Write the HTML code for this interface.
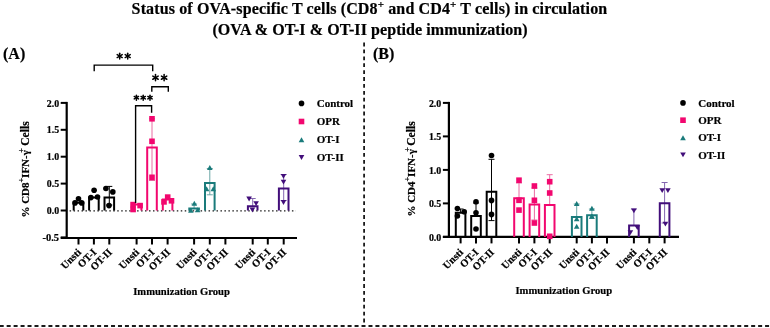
<!DOCTYPE html><html><head><meta charset="utf-8"><style>html,body{margin:0;padding:0;background:#fff;}svg{display:block;will-change:transform;filter:blur(0.3px);}</style></head><body>
<svg width="770" height="328" viewBox="0 0 770 328">
<rect width="770" height="328" fill="#fff"/>
<text x="131.6" y="14" font-family="Liberation Serif" font-weight="bold" stroke="#000" stroke-width="0.2" font-size="16" textLength="475.6" lengthAdjust="spacing">Status of OVA-specific T cells (CD8<tspan dy="-6.5" font-size="11">+</tspan><tspan dy="6.5"> and CD4</tspan><tspan dy="-6.5" font-size="11">+</tspan><tspan dy="6.5"> T cells) in circulation</tspan></text>
<text x="212.4" y="35" font-family="Liberation Serif" font-weight="bold" stroke="#000" stroke-width="0.2" font-size="16" textLength="315.2" lengthAdjust="spacing">(OVA &amp; OT-I &amp; OT-II peptide immunization)</text>
<text x="3" y="59.2" font-family="Liberation Serif" font-weight="bold" stroke="#000" stroke-width="0.2" font-size="16">(A)</text>
<text x="373" y="59.2" font-family="Liberation Serif" font-weight="bold" stroke="#000" stroke-width="0.2" font-size="16">(B)</text>
<line x1="364.1" y1="42.6" x2="364.1" y2="326" stroke="#1a1a1a" stroke-width="1.8" stroke-dasharray="3.8 3.1"/>
<line x1="-0.3" y1="326" x2="770" y2="326" stroke="#1a1a1a" stroke-width="2" stroke-dasharray="4 2.958"/>
<line x1="66.70" y1="101.90" x2="66.70" y2="239.00" stroke="#000" stroke-width="2.2"/>
<line x1="60.70" y1="102.90" x2="66.70" y2="102.90" stroke="#000" stroke-width="2"/>
<text x="59.10" y="106.50" font-family="Liberation Serif" font-weight="bold" stroke="#000" stroke-width="0.2" font-size="10.5" text-anchor="end" textLength="12.4" lengthAdjust="spacingAndGlyphs">2.0</text>
<line x1="60.70" y1="129.80" x2="66.70" y2="129.80" stroke="#000" stroke-width="2"/>
<text x="59.10" y="133.40" font-family="Liberation Serif" font-weight="bold" stroke="#000" stroke-width="0.2" font-size="10.5" text-anchor="end" textLength="12.4" lengthAdjust="spacingAndGlyphs">1.5</text>
<line x1="60.70" y1="156.70" x2="66.70" y2="156.70" stroke="#000" stroke-width="2"/>
<text x="59.10" y="160.30" font-family="Liberation Serif" font-weight="bold" stroke="#000" stroke-width="0.2" font-size="10.5" text-anchor="end" textLength="12.4" lengthAdjust="spacingAndGlyphs">1.0</text>
<line x1="60.70" y1="183.60" x2="66.70" y2="183.60" stroke="#000" stroke-width="2"/>
<text x="59.10" y="187.20" font-family="Liberation Serif" font-weight="bold" stroke="#000" stroke-width="0.2" font-size="10.5" text-anchor="end" textLength="12.4" lengthAdjust="spacingAndGlyphs">0.5</text>
<line x1="60.70" y1="210.50" x2="66.70" y2="210.50" stroke="#000" stroke-width="2"/>
<text x="59.10" y="214.10" font-family="Liberation Serif" font-weight="bold" stroke="#000" stroke-width="0.2" font-size="10.5" text-anchor="end" textLength="12.4" lengthAdjust="spacingAndGlyphs">0.0</text>
<line x1="60.70" y1="237.40" x2="66.70" y2="237.40" stroke="#000" stroke-width="2"/>
<text x="59.10" y="241.00" font-family="Liberation Serif" font-weight="bold" stroke="#000" stroke-width="0.2" font-size="10.5" text-anchor="end" textLength="16.6" lengthAdjust="spacingAndGlyphs">-0.5</text>
<line x1="60.70" y1="238.00" x2="297.00" y2="238.00" stroke="#000" stroke-width="2.2"/>
<line x1="78.50" y1="238.00" x2="78.50" y2="244.50" stroke="#000" stroke-width="2"/>
<text transform="translate(81.70,252.9) rotate(-45)" font-family="Liberation Serif" font-weight="bold" stroke="#000" stroke-width="0.2" font-size="10.4" text-anchor="end">Unsti</text>
<line x1="93.90" y1="238.00" x2="93.90" y2="244.50" stroke="#000" stroke-width="2"/>
<text transform="translate(97.10,252.9) rotate(-45)" font-family="Liberation Serif" font-weight="bold" stroke="#000" stroke-width="0.2" font-size="10.4" text-anchor="end">OT-I</text>
<line x1="109.30" y1="238.00" x2="109.30" y2="244.50" stroke="#000" stroke-width="2"/>
<text transform="translate(112.50,252.9) rotate(-45)" font-family="Liberation Serif" font-weight="bold" stroke="#000" stroke-width="0.2" font-size="10.4" text-anchor="end">OT-II</text>
<line x1="136.60" y1="238.00" x2="136.60" y2="244.50" stroke="#000" stroke-width="2"/>
<text transform="translate(139.80,252.9) rotate(-45)" font-family="Liberation Serif" font-weight="bold" stroke="#000" stroke-width="0.2" font-size="10.4" text-anchor="end">Unsti</text>
<line x1="152.00" y1="238.00" x2="152.00" y2="244.50" stroke="#000" stroke-width="2"/>
<text transform="translate(155.20,252.9) rotate(-45)" font-family="Liberation Serif" font-weight="bold" stroke="#000" stroke-width="0.2" font-size="10.4" text-anchor="end">OT-I</text>
<line x1="167.60" y1="238.00" x2="167.60" y2="244.50" stroke="#000" stroke-width="2"/>
<text transform="translate(170.80,252.9) rotate(-45)" font-family="Liberation Serif" font-weight="bold" stroke="#000" stroke-width="0.2" font-size="10.4" text-anchor="end">OT-II</text>
<line x1="194.10" y1="238.00" x2="194.10" y2="244.50" stroke="#000" stroke-width="2"/>
<text transform="translate(197.30,252.9) rotate(-45)" font-family="Liberation Serif" font-weight="bold" stroke="#000" stroke-width="0.2" font-size="10.4" text-anchor="end">Unsti</text>
<line x1="209.80" y1="238.00" x2="209.80" y2="244.50" stroke="#000" stroke-width="2"/>
<text transform="translate(213.00,252.9) rotate(-45)" font-family="Liberation Serif" font-weight="bold" stroke="#000" stroke-width="0.2" font-size="10.4" text-anchor="end">OT-I</text>
<line x1="225.40" y1="238.00" x2="225.40" y2="244.50" stroke="#000" stroke-width="2"/>
<text transform="translate(228.60,252.9) rotate(-45)" font-family="Liberation Serif" font-weight="bold" stroke="#000" stroke-width="0.2" font-size="10.4" text-anchor="end">OT-II</text>
<line x1="252.70" y1="238.00" x2="252.70" y2="244.50" stroke="#000" stroke-width="2"/>
<text transform="translate(255.90,252.9) rotate(-45)" font-family="Liberation Serif" font-weight="bold" stroke="#000" stroke-width="0.2" font-size="10.4" text-anchor="end">Unsti</text>
<line x1="267.80" y1="238.00" x2="267.80" y2="244.50" stroke="#000" stroke-width="2"/>
<text transform="translate(271.00,252.9) rotate(-45)" font-family="Liberation Serif" font-weight="bold" stroke="#000" stroke-width="0.2" font-size="10.4" text-anchor="end">OT-I</text>
<line x1="283.70" y1="238.00" x2="283.70" y2="244.50" stroke="#000" stroke-width="2"/>
<text transform="translate(286.90,252.9) rotate(-45)" font-family="Liberation Serif" font-weight="bold" stroke="#000" stroke-width="0.2" font-size="10.4" text-anchor="end">OT-II</text>
<text transform="translate(28.80,217.60) rotate(-90)" font-family="Liberation Serif" font-weight="bold" stroke="#000" stroke-width="0.2" font-size="11">% CD8<tspan dy="-4.5" font-size="8">+</tspan><tspan dy="4.5">IFN-γ</tspan></text>
<text transform="translate(24.30,152.80) rotate(-90)" font-family="Liberation Serif" font-weight="bold" stroke="#000" stroke-width="0.2" font-size="8">+</text>
<text transform="translate(28.80,121.3) rotate(-90)" font-family="Liberation Serif" font-weight="bold" stroke="#000" stroke-width="0.2" font-size="11.6" text-anchor="end">Cells</text>
<text x="133.20" y="295.00" font-family="Liberation Serif" font-weight="bold" stroke="#000" stroke-width="0.2" font-size="10.6">Immunization Group</text>
<circle cx="301.50" cy="103.40" r="2.80" fill="#000"/>
<text x="316.70" y="107.20" font-family="Liberation Serif" font-weight="bold" stroke="#000" stroke-width="0.2" font-size="11">Control</text>
<rect x="298.70" y="118.70" width="5.60" height="5.60" fill="#F2076F"/>
<text x="316.70" y="125.30" font-family="Liberation Serif" font-weight="bold" stroke="#000" stroke-width="0.2" font-size="11">OPR</text>
<path d="M301.50 137.20L304.30 142.20L298.70 142.20Z" fill="#1A7B7B"/>
<text x="316.70" y="143.20" font-family="Liberation Serif" font-weight="bold" stroke="#000" stroke-width="0.2" font-size="11">OT-I</text>
<path d="M301.50 159.90L304.30 155.10L298.70 155.10Z" fill="#420E7A"/>
<text x="316.70" y="161.20" font-family="Liberation Serif" font-weight="bold" stroke="#000" stroke-width="0.2" font-size="11">OT-II</text>
<line x1="69.6" y1="210.8" x2="296" y2="210.8" stroke="#1a1a1a" stroke-width="1.2" stroke-dasharray="1.5 2.47"/>
<line x1="448.90" y1="101.90" x2="448.90" y2="237.90" stroke="#000" stroke-width="2.2"/>
<line x1="442.90" y1="102.90" x2="448.90" y2="102.90" stroke="#000" stroke-width="2"/>
<text x="441.30" y="106.50" font-family="Liberation Serif" font-weight="bold" stroke="#000" stroke-width="0.2" font-size="10.5" text-anchor="end" textLength="12.4" lengthAdjust="spacingAndGlyphs">2.0</text>
<line x1="442.90" y1="136.40" x2="448.90" y2="136.40" stroke="#000" stroke-width="2"/>
<text x="441.30" y="140.00" font-family="Liberation Serif" font-weight="bold" stroke="#000" stroke-width="0.2" font-size="10.5" text-anchor="end" textLength="12.4" lengthAdjust="spacingAndGlyphs">1.5</text>
<line x1="442.90" y1="169.90" x2="448.90" y2="169.90" stroke="#000" stroke-width="2"/>
<text x="441.30" y="173.50" font-family="Liberation Serif" font-weight="bold" stroke="#000" stroke-width="0.2" font-size="10.5" text-anchor="end" textLength="12.4" lengthAdjust="spacingAndGlyphs">1.0</text>
<line x1="442.90" y1="203.40" x2="448.90" y2="203.40" stroke="#000" stroke-width="2"/>
<text x="441.30" y="207.00" font-family="Liberation Serif" font-weight="bold" stroke="#000" stroke-width="0.2" font-size="10.5" text-anchor="end" textLength="12.4" lengthAdjust="spacingAndGlyphs">0.5</text>
<line x1="442.90" y1="236.90" x2="448.90" y2="236.90" stroke="#000" stroke-width="2"/>
<text x="441.30" y="240.50" font-family="Liberation Serif" font-weight="bold" stroke="#000" stroke-width="0.2" font-size="10.5" text-anchor="end" textLength="12.4" lengthAdjust="spacingAndGlyphs">0.0</text>
<line x1="442.90" y1="236.90" x2="679.00" y2="236.90" stroke="#000" stroke-width="2.2"/>
<line x1="460.60" y1="236.90" x2="460.60" y2="243.40" stroke="#000" stroke-width="2"/>
<text transform="translate(463.80,252.9) rotate(-45)" font-family="Liberation Serif" font-weight="bold" stroke="#000" stroke-width="0.2" font-size="10.4" text-anchor="end">Unsti</text>
<line x1="476.00" y1="236.90" x2="476.00" y2="243.40" stroke="#000" stroke-width="2"/>
<text transform="translate(479.20,252.9) rotate(-45)" font-family="Liberation Serif" font-weight="bold" stroke="#000" stroke-width="0.2" font-size="10.4" text-anchor="end">OT-I</text>
<line x1="491.50" y1="236.90" x2="491.50" y2="243.40" stroke="#000" stroke-width="2"/>
<text transform="translate(494.70,252.9) rotate(-45)" font-family="Liberation Serif" font-weight="bold" stroke="#000" stroke-width="0.2" font-size="10.4" text-anchor="end">OT-II</text>
<line x1="519.00" y1="236.90" x2="519.00" y2="243.40" stroke="#000" stroke-width="2"/>
<text transform="translate(522.20,252.9) rotate(-45)" font-family="Liberation Serif" font-weight="bold" stroke="#000" stroke-width="0.2" font-size="10.4" text-anchor="end">Unsti</text>
<line x1="534.40" y1="236.90" x2="534.40" y2="243.40" stroke="#000" stroke-width="2"/>
<text transform="translate(537.60,252.9) rotate(-45)" font-family="Liberation Serif" font-weight="bold" stroke="#000" stroke-width="0.2" font-size="10.4" text-anchor="end">OT-I</text>
<line x1="549.70" y1="236.90" x2="549.70" y2="243.40" stroke="#000" stroke-width="2"/>
<text transform="translate(552.90,252.9) rotate(-45)" font-family="Liberation Serif" font-weight="bold" stroke="#000" stroke-width="0.2" font-size="10.4" text-anchor="end">OT-II</text>
<line x1="576.70" y1="236.90" x2="576.70" y2="243.40" stroke="#000" stroke-width="2"/>
<text transform="translate(579.90,252.9) rotate(-45)" font-family="Liberation Serif" font-weight="bold" stroke="#000" stroke-width="0.2" font-size="10.4" text-anchor="end">Unsti</text>
<line x1="591.90" y1="236.90" x2="591.90" y2="243.40" stroke="#000" stroke-width="2"/>
<text transform="translate(595.10,252.9) rotate(-45)" font-family="Liberation Serif" font-weight="bold" stroke="#000" stroke-width="0.2" font-size="10.4" text-anchor="end">OT-I</text>
<line x1="607.00" y1="236.90" x2="607.00" y2="243.40" stroke="#000" stroke-width="2"/>
<text transform="translate(610.20,252.9) rotate(-45)" font-family="Liberation Serif" font-weight="bold" stroke="#000" stroke-width="0.2" font-size="10.4" text-anchor="end">OT-II</text>
<line x1="633.90" y1="236.90" x2="633.90" y2="243.40" stroke="#000" stroke-width="2"/>
<text transform="translate(637.10,252.9) rotate(-45)" font-family="Liberation Serif" font-weight="bold" stroke="#000" stroke-width="0.2" font-size="10.4" text-anchor="end">Unsti</text>
<line x1="649.30" y1="236.90" x2="649.30" y2="243.40" stroke="#000" stroke-width="2"/>
<text transform="translate(652.50,252.9) rotate(-45)" font-family="Liberation Serif" font-weight="bold" stroke="#000" stroke-width="0.2" font-size="10.4" text-anchor="end">OT-I</text>
<line x1="664.60" y1="236.90" x2="664.60" y2="243.40" stroke="#000" stroke-width="2"/>
<text transform="translate(667.80,252.9) rotate(-45)" font-family="Liberation Serif" font-weight="bold" stroke="#000" stroke-width="0.2" font-size="10.4" text-anchor="end">OT-II</text>
<text transform="translate(414.60,216.60) rotate(-90)" font-family="Liberation Serif" font-weight="bold" stroke="#000" stroke-width="0.2" font-size="11">% CD4<tspan dy="-4.5" font-size="8">+</tspan><tspan dy="4.5">IFN-γ</tspan></text>
<text transform="translate(410.10,151.80) rotate(-90)" font-family="Liberation Serif" font-weight="bold" stroke="#000" stroke-width="0.2" font-size="8">+</text>
<text transform="translate(414.60,121.3) rotate(-90)" font-family="Liberation Serif" font-weight="bold" stroke="#000" stroke-width="0.2" font-size="11.6" text-anchor="end">Cells</text>
<text x="515.50" y="294.00" font-family="Liberation Serif" font-weight="bold" stroke="#000" stroke-width="0.2" font-size="10.6">Immunization Group</text>
<circle cx="683.00" cy="102.90" r="2.80" fill="#000"/>
<text x="698.20" y="106.70" font-family="Liberation Serif" font-weight="bold" stroke="#000" stroke-width="0.2" font-size="11">Control</text>
<rect x="680.20" y="117.40" width="5.60" height="5.60" fill="#F2076F"/>
<text x="698.20" y="124.00" font-family="Liberation Serif" font-weight="bold" stroke="#000" stroke-width="0.2" font-size="11">OPR</text>
<path d="M683.00 135.30L685.80 140.30L680.20 140.30Z" fill="#1A7B7B"/>
<text x="698.20" y="141.30" font-family="Liberation Serif" font-weight="bold" stroke="#000" stroke-width="0.2" font-size="11">OT-I</text>
<path d="M683.00 157.30L685.80 152.50L680.20 152.50Z" fill="#420E7A"/>
<text x="698.20" y="158.60" font-family="Liberation Serif" font-weight="bold" stroke="#000" stroke-width="0.2" font-size="11">OT-II</text>
<path d="M73.70 210.50V202.80H83.30V210.50" fill="none" stroke="#000" stroke-width="2"/>
<circle cx="78.50" cy="198.70" r="2.80" fill="#000"/>
<circle cx="75.00" cy="202.90" r="2.80" fill="#000"/>
<circle cx="81.70" cy="202.90" r="2.80" fill="#000"/>
<path d="M89.10 210.50V197.40H98.70V210.50" fill="none" stroke="#000" stroke-width="2"/>
<circle cx="94.10" cy="190.30" r="2.80" fill="#000"/>
<circle cx="97.50" cy="197.00" r="2.80" fill="#000"/>
<circle cx="90.90" cy="197.60" r="2.80" fill="#000"/>
<line x1="109.30" y1="197.40" x2="109.30" y2="186.40" stroke="#000" stroke-width="1"/>
<line x1="106.30" y1="186.40" x2="112.30" y2="186.40" stroke="#000" stroke-width="1"/>
<line x1="109.30" y1="197.40" x2="109.30" y2="205.00" stroke="#000" stroke-width="1"/>
<line x1="106.30" y1="205.00" x2="112.30" y2="205.00" stroke="#000" stroke-width="1"/>
<path d="M104.50 210.50V197.40H114.10V210.50" fill="none" stroke="#000" stroke-width="2"/>
<circle cx="105.90" cy="188.50" r="2.80" fill="#000"/>
<circle cx="112.80" cy="191.90" r="2.80" fill="#000"/>
<circle cx="109.00" cy="205.60" r="2.80" fill="#000"/>
<path d="M131.80 210.50V204.40H141.40V210.50" fill="none" stroke="#F2076F" stroke-width="2"/>
<rect x="130.30" y="201.80" width="5.60" height="5.60" fill="#F2076F"/>
<rect x="137.30" y="202.80" width="5.60" height="5.60" fill="#F2076F"/>
<rect x="130.30" y="206.70" width="5.60" height="5.60" fill="#F2076F"/>
<line x1="152.00" y1="147.40" x2="152.00" y2="118.80" stroke="#EA6CA3" stroke-width="1"/>
<line x1="149.00" y1="118.80" x2="155.00" y2="118.80" stroke="#EA6CA3" stroke-width="1"/>
<line x1="152.00" y1="147.40" x2="152.00" y2="180.50" stroke="#EA6CA3" stroke-width="1"/>
<line x1="149.00" y1="180.50" x2="155.00" y2="180.50" stroke="#EA6CA3" stroke-width="1"/>
<path d="M147.20 210.50V147.40H156.80V210.50" fill="none" stroke="#F2076F" stroke-width="2"/>
<rect x="149.20" y="116.00" width="5.60" height="5.60" fill="#F2076F"/>
<rect x="149.20" y="138.50" width="5.60" height="5.60" fill="#F2076F"/>
<rect x="149.20" y="174.50" width="5.60" height="5.60" fill="#F2076F"/>
<path d="M162.80 210.50V199.60H172.40V210.50" fill="none" stroke="#F2076F" stroke-width="2"/>
<rect x="164.90" y="194.30" width="5.60" height="5.60" fill="#F2076F"/>
<rect x="161.20" y="199.10" width="5.60" height="5.60" fill="#F2076F"/>
<rect x="168.70" y="198.00" width="5.60" height="5.60" fill="#F2076F"/>
<line x1="194.10" y1="208.40" x2="194.10" y2="204.00" stroke="#6AA6A6" stroke-width="1"/>
<line x1="191.10" y1="204.00" x2="197.10" y2="204.00" stroke="#6AA6A6" stroke-width="1"/>
<path d="M189.30 210.50V208.40H198.90V210.50" fill="none" stroke="#1A7B7B" stroke-width="2"/>
<path d="M194.30 200.70L197.10 205.70L191.50 205.70Z" fill="#1A7B7B"/>
<path d="M190.90 207.70L193.70 212.70L188.10 212.70Z" fill="#1A7B7B"/>
<path d="M197.60 207.30L200.40 212.30L194.80 212.30Z" fill="#1A7B7B"/>
<line x1="209.80" y1="183.10" x2="209.80" y2="168.50" stroke="#6AA6A6" stroke-width="1"/>
<line x1="206.80" y1="168.50" x2="212.80" y2="168.50" stroke="#6AA6A6" stroke-width="1"/>
<line x1="209.80" y1="183.10" x2="209.80" y2="194.80" stroke="#6AA6A6" stroke-width="1"/>
<line x1="206.80" y1="194.80" x2="212.80" y2="194.80" stroke="#6AA6A6" stroke-width="1"/>
<path d="M205.00 210.50V183.10H214.60V210.50" fill="none" stroke="#1A7B7B" stroke-width="2"/>
<path d="M209.80 164.90L212.60 169.90L207.00 169.90Z" fill="#1A7B7B"/>
<path d="M206.60 186.30L209.40 191.30L203.80 191.30Z" fill="#1A7B7B"/>
<path d="M213.30 186.30L216.10 191.30L210.50 191.30Z" fill="#1A7B7B"/>
<line x1="252.70" y1="206.20" x2="252.70" y2="198.50" stroke="#8466B0" stroke-width="1"/>
<line x1="249.70" y1="198.50" x2="255.70" y2="198.50" stroke="#8466B0" stroke-width="1"/>
<path d="M247.90 210.50V206.20H257.50V210.50" fill="none" stroke="#420E7A" stroke-width="2"/>
<path d="M249.10 201.40L251.90 196.60L246.30 196.60Z" fill="#420E7A"/>
<path d="M256.10 206.00L258.90 201.20L253.30 201.20Z" fill="#420E7A"/>
<path d="M252.40 212.40L255.20 207.60L249.60 207.60Z" fill="#420E7A"/>
<line x1="283.70" y1="188.50" x2="283.70" y2="174.50" stroke="#8466B0" stroke-width="1"/>
<line x1="280.70" y1="174.50" x2="286.70" y2="174.50" stroke="#8466B0" stroke-width="1"/>
<line x1="283.70" y1="188.50" x2="283.70" y2="200.50" stroke="#8466B0" stroke-width="1"/>
<line x1="280.70" y1="200.50" x2="286.70" y2="200.50" stroke="#8466B0" stroke-width="1"/>
<path d="M278.90 210.50V188.50H288.50V210.50" fill="none" stroke="#420E7A" stroke-width="2"/>
<path d="M283.50 178.80L286.30 174.00L280.70 174.00Z" fill="#420E7A"/>
<path d="M283.50 184.50L286.30 179.70L280.70 179.70Z" fill="#420E7A"/>
<path d="M283.50 204.90L286.30 200.10L280.70 200.10Z" fill="#420E7A"/>
<path d="M94.2 71.3V65.1H152.7V71.3" fill="none" stroke="#000" stroke-width="1.4"/>
<line x1="119.70" y1="53.20" x2="119.70" y2="59.00" stroke="#000" stroke-width="1.5" stroke-linecap="round"/>
<line x1="117.19" y1="54.65" x2="122.21" y2="57.55" stroke="#000" stroke-width="1.5" stroke-linecap="round"/>
<line x1="117.19" y1="57.55" x2="122.21" y2="54.65" stroke="#000" stroke-width="1.5" stroke-linecap="round"/>
<line x1="127.70" y1="53.20" x2="127.70" y2="59.00" stroke="#000" stroke-width="1.5" stroke-linecap="round"/>
<line x1="125.19" y1="54.65" x2="130.21" y2="57.55" stroke="#000" stroke-width="1.5" stroke-linecap="round"/>
<line x1="125.19" y1="57.55" x2="130.21" y2="54.65" stroke="#000" stroke-width="1.5" stroke-linecap="round"/>
<path d="M151.8 91.8V86.7H168.3V91.8" fill="none" stroke="#000" stroke-width="1.4"/>
<line x1="155.50" y1="74.60" x2="155.50" y2="80.80" stroke="#000" stroke-width="1.5" stroke-linecap="round"/>
<line x1="152.82" y1="76.15" x2="158.18" y2="79.25" stroke="#000" stroke-width="1.5" stroke-linecap="round"/>
<line x1="152.82" y1="79.25" x2="158.18" y2="76.15" stroke="#000" stroke-width="1.5" stroke-linecap="round"/>
<line x1="164.10" y1="74.60" x2="164.10" y2="80.80" stroke="#000" stroke-width="1.5" stroke-linecap="round"/>
<line x1="161.42" y1="76.15" x2="166.78" y2="79.25" stroke="#000" stroke-width="1.5" stroke-linecap="round"/>
<line x1="161.42" y1="79.25" x2="166.78" y2="76.15" stroke="#000" stroke-width="1.5" stroke-linecap="round"/>
<path d="M135.6 203V105.7H151.6V112.8" fill="none" stroke="#000" stroke-width="1.4"/>
<line x1="136.40" y1="95.20" x2="136.40" y2="100.20" stroke="#000" stroke-width="1.5" stroke-linecap="round"/>
<line x1="134.23" y1="96.45" x2="138.57" y2="98.95" stroke="#000" stroke-width="1.5" stroke-linecap="round"/>
<line x1="134.23" y1="98.95" x2="138.57" y2="96.45" stroke="#000" stroke-width="1.5" stroke-linecap="round"/>
<line x1="143.20" y1="95.20" x2="143.20" y2="100.20" stroke="#000" stroke-width="1.5" stroke-linecap="round"/>
<line x1="141.03" y1="96.45" x2="145.37" y2="98.95" stroke="#000" stroke-width="1.5" stroke-linecap="round"/>
<line x1="141.03" y1="98.95" x2="145.37" y2="96.45" stroke="#000" stroke-width="1.5" stroke-linecap="round"/>
<line x1="150.00" y1="95.20" x2="150.00" y2="100.20" stroke="#000" stroke-width="1.5" stroke-linecap="round"/>
<line x1="147.83" y1="96.45" x2="152.17" y2="98.95" stroke="#000" stroke-width="1.5" stroke-linecap="round"/>
<line x1="147.83" y1="98.95" x2="152.17" y2="96.45" stroke="#000" stroke-width="1.5" stroke-linecap="round"/>
<line x1="460.60" y1="212.70" x2="460.60" y2="209.00" stroke="#000" stroke-width="1"/>
<line x1="457.60" y1="209.00" x2="463.60" y2="209.00" stroke="#000" stroke-width="1"/>
<path d="M455.80 236.90V212.70H465.40V236.90" fill="none" stroke="#000" stroke-width="2"/>
<circle cx="457.40" cy="208.50" r="2.80" fill="#000"/>
<circle cx="464.20" cy="211.80" r="2.80" fill="#000"/>
<circle cx="457.40" cy="216.00" r="2.80" fill="#000"/>
<line x1="476.00" y1="216.10" x2="476.00" y2="203.00" stroke="#000" stroke-width="1"/>
<line x1="473.00" y1="203.00" x2="479.00" y2="203.00" stroke="#000" stroke-width="1"/>
<path d="M471.20 236.90V216.10H480.80V236.90" fill="none" stroke="#000" stroke-width="2"/>
<circle cx="476.00" cy="201.80" r="2.80" fill="#000"/>
<circle cx="476.00" cy="212.70" r="2.80" fill="#000"/>
<circle cx="476.00" cy="229.00" r="2.80" fill="#000"/>
<line x1="491.50" y1="191.80" x2="491.50" y2="159.30" stroke="#000" stroke-width="1"/>
<line x1="488.50" y1="159.30" x2="494.50" y2="159.30" stroke="#000" stroke-width="1"/>
<line x1="491.50" y1="191.80" x2="491.50" y2="220.60" stroke="#000" stroke-width="1"/>
<line x1="488.50" y1="220.60" x2="494.50" y2="220.60" stroke="#000" stroke-width="1"/>
<path d="M486.70 236.90V191.80H496.30V236.90" fill="none" stroke="#000" stroke-width="2"/>
<circle cx="491.50" cy="155.50" r="2.80" fill="#000"/>
<circle cx="491.50" cy="200.40" r="2.80" fill="#000"/>
<circle cx="491.50" cy="214.40" r="2.80" fill="#000"/>
<line x1="519.00" y1="198.20" x2="519.00" y2="183.00" stroke="#EA6CA3" stroke-width="1"/>
<line x1="516.00" y1="183.00" x2="522.00" y2="183.00" stroke="#EA6CA3" stroke-width="1"/>
<path d="M514.20 236.90V198.20H523.80V236.90" fill="none" stroke="#F2076F" stroke-width="2"/>
<rect x="516.20" y="177.40" width="5.60" height="5.60" fill="#F2076F"/>
<rect x="516.20" y="197.50" width="5.60" height="5.60" fill="#F2076F"/>
<rect x="516.20" y="207.30" width="5.60" height="5.60" fill="#F2076F"/>
<line x1="534.40" y1="204.60" x2="534.40" y2="188.00" stroke="#EA6CA3" stroke-width="1"/>
<line x1="531.40" y1="188.00" x2="537.40" y2="188.00" stroke="#EA6CA3" stroke-width="1"/>
<line x1="534.40" y1="204.60" x2="534.40" y2="220.00" stroke="#EA6CA3" stroke-width="1"/>
<line x1="531.40" y1="220.00" x2="537.40" y2="220.00" stroke="#EA6CA3" stroke-width="1"/>
<path d="M529.60 236.90V204.60H539.20V236.90" fill="none" stroke="#F2076F" stroke-width="2"/>
<rect x="531.60" y="183.20" width="5.60" height="5.60" fill="#F2076F"/>
<rect x="531.60" y="197.50" width="5.60" height="5.60" fill="#F2076F"/>
<rect x="531.60" y="220.20" width="5.60" height="5.60" fill="#F2076F"/>
<line x1="549.70" y1="205.10" x2="549.70" y2="174.70" stroke="#EA6CA3" stroke-width="1"/>
<line x1="546.70" y1="174.70" x2="552.70" y2="174.70" stroke="#EA6CA3" stroke-width="1"/>
<path d="M544.90 236.90V205.10H554.50V236.90" fill="none" stroke="#F2076F" stroke-width="2"/>
<rect x="546.90" y="178.90" width="5.60" height="5.60" fill="#F2076F"/>
<rect x="546.90" y="190.20" width="5.60" height="5.60" fill="#F2076F"/>
<rect x="546.90" y="233.50" width="5.60" height="5.60" fill="#F2076F"/>
<line x1="576.70" y1="216.90" x2="576.70" y2="204.00" stroke="#6AA6A6" stroke-width="1"/>
<line x1="573.70" y1="204.00" x2="579.70" y2="204.00" stroke="#6AA6A6" stroke-width="1"/>
<path d="M571.90 236.90V216.90H581.50V236.90" fill="none" stroke="#1A7B7B" stroke-width="2"/>
<path d="M576.70 200.90L579.50 205.90L573.90 205.90Z" fill="#1A7B7B"/>
<path d="M576.70 216.30L579.50 221.30L573.90 221.30Z" fill="#1A7B7B"/>
<path d="M576.70 223.80L579.50 228.80L573.90 228.80Z" fill="#1A7B7B"/>
<line x1="591.90" y1="215.20" x2="591.90" y2="209.00" stroke="#6AA6A6" stroke-width="1"/>
<line x1="588.90" y1="209.00" x2="594.90" y2="209.00" stroke="#6AA6A6" stroke-width="1"/>
<path d="M587.10 236.90V215.20H596.70V236.90" fill="none" stroke="#1A7B7B" stroke-width="2"/>
<path d="M591.90 205.70L594.70 210.70L589.10 210.70Z" fill="#1A7B7B"/>
<path d="M591.90 213.80L594.70 218.80L589.10 218.80Z" fill="#1A7B7B"/>
<path d="M591.90 213.80L594.70 218.80L589.10 218.80Z" fill="#1A7B7B"/>
<line x1="633.90" y1="225.50" x2="633.90" y2="209.00" stroke="#8466B0" stroke-width="1"/>
<line x1="630.90" y1="209.00" x2="636.90" y2="209.00" stroke="#8466B0" stroke-width="1"/>
<path d="M629.10 236.90V225.50H638.70V236.90" fill="none" stroke="#420E7A" stroke-width="2"/>
<path d="M633.90 213.20L636.70 208.40L631.10 208.40Z" fill="#420E7A"/>
<path d="M637.30 230.10L640.10 225.30L634.50 225.30Z" fill="#420E7A"/>
<path d="M630.40 235.00L633.20 230.20L627.60 230.20Z" fill="#420E7A"/>
<line x1="664.60" y1="203.30" x2="664.60" y2="182.50" stroke="#8466B0" stroke-width="1"/>
<line x1="661.60" y1="182.50" x2="667.60" y2="182.50" stroke="#8466B0" stroke-width="1"/>
<line x1="664.60" y1="203.30" x2="664.60" y2="223.00" stroke="#8466B0" stroke-width="1"/>
<line x1="661.60" y1="223.00" x2="667.60" y2="223.00" stroke="#8466B0" stroke-width="1"/>
<path d="M659.80 236.90V203.30H669.40V236.90" fill="none" stroke="#420E7A" stroke-width="2"/>
<path d="M662.20 193.10L665.00 188.30L659.40 188.30Z" fill="#420E7A"/>
<path d="M667.90 193.10L670.70 188.30L665.10 188.30Z" fill="#420E7A"/>
<path d="M665.40 226.50L668.20 221.70L662.60 221.70Z" fill="#420E7A"/>
</svg></body></html>
